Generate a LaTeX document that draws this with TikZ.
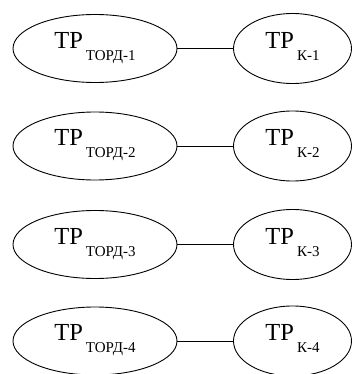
\documentclass[tikz,border=0pt]{standalone}
\usepackage{fontspec}
\setmainfont{Liberation Serif}
\usetikzlibrary{shapes.geometric}
\newcommand{\trlabel}[1]{\fontsize{24.5}{25}\selectfont TP\hspace{3pt}\raisebox{-12pt}[0pt][16.5pt]{\fontsize{15}{15}\selectfont #1}}
\tikzset{
  bigell/.style={ellipse, draw, line width=0.9pt, inner sep=0pt, minimum width=164pt, minimum height=68pt},
  smallell/.style={ellipse, draw, line width=0.9pt, inner sep=0pt, minimum width=118pt, minimum height=70pt},
  link/.style={line width=0.9pt}
}
\begin{document}
\begin{tikzpicture}[x=1pt,y=-1pt]
\useasboundingbox (0,0) rectangle (353,374);
\foreach \i/\yy in {1/48.5,2/146,3/244.5,4/341}{
  \node[bigell] (L\i) at (95,\yy) {\trlabel{ТОРД-\i}};
  \node[smallell] (R\i) at (292.5,\yy) {\trlabel{К-\i}};
  \draw[link] (L\i) -- (R\i);
}
\end{tikzpicture}
\end{document}
